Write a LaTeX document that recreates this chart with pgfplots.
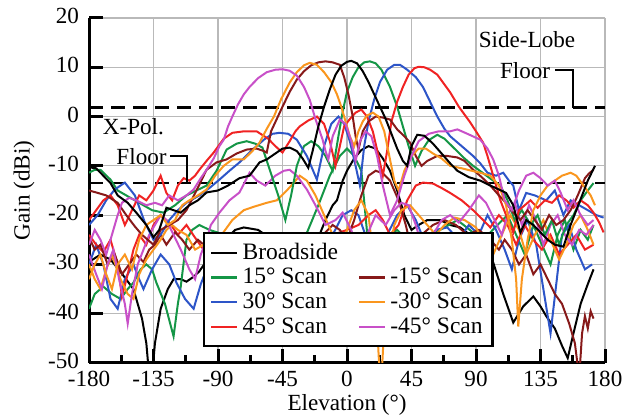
\documentclass[border=0pt]{standalone}
\usepackage{pgfplots}
\pgfplotsset{compat=1.18}
\usepackage{fontspec}
\setmainfont{Liberation Serif}
\definecolor{cgreen}{RGB}{20,150,70}
\definecolor{cblue}{RGB}{45,85,200}
\definecolor{cred}{RGB}{240,35,35}
\definecolor{cdred}{RGB}{135,25,25}
\definecolor{corange}{RGB}{250,150,30}
\definecolor{cmag}{RGB}{200,80,200}
\begin{document}
\begin{tikzpicture}
\begin{axis}[
 scale only axis, width=258bp, height=172.5bp,
 xmin=-180, xmax=180, ymin=-50, ymax=20,
 xtick={-180,-135,-90,-45,0,45,90,135,180},
 xticklabels={-180,-135,-90,-45,0,45,90,135,180},
 minor xtick={-157.5,-112.5,-67.5,-22.5,22.5,67.5,112.5,157.5},
 ytick={-50,-40,-30,-20,-10,0,10,20},
 yticklabels={-50,-40,-30,-20,-10,0,10,20},
 axis x line*=bottom, axis y line*=left,
 axis line style={line width=1.5bp,-},
 tick align=inside, major tick length=7bp, minor tick length=4bp,
 every tick/.style={black, line width=1.5bp},
 grid=major, major grid style={gray!55, line width=0.6bp},
 font=\fontsize{11.6}{14}\selectfont,
 xlabel={Elevation (°)}, ylabel={Gain (dBi)},
 xlabel style={yshift=3bp},
 yticklabel style={xshift=-1.5bp, yshift=1bp},
 xticklabel style={yshift=-0.5bp},
 legend style={at={(0.221,0.380)}, anchor=north west, draw=black, line width=1.2bp, fill=white,
   font=\fontsize{11.8}{14}\selectfont, inner xsep=3bp, inner ysep=3bp, row sep=-1bp},
 legend columns=2,
 legend cell align=left,
 legend image code/.code={\draw[#1] (0bp,0bp) -- (13bp,0bp);},
 /tikz/every even column/.append style={column sep=8bp},
 every axis plot/.append style={line width=1bp},
]
% reference floors
\addplot[forget plot, black, line width=1.2bp, dash pattern=on 7bp off 4bp] coordinates {(-180,1.8) (180,1.8)};
\addplot[forget plot, black, line width=1.2bp, dash pattern=on 7bp off 4bp] coordinates {(-180,-13.5) (180,-13.5)};

% ---------- cross-pol curves ----------
\addplot[forget plot, black] coordinates {
(-180,-29.5) (-172,-28) (-165,-29) (-158,-31.5) (-149,-35) (-143,-41) (-140,-46) (-137,-56) (-134,-46) (-130,-39) (-125,-35) (-121,-33) (-116,-33) (-112,-33.5) (-107,-32.5) (-103,-31.4) (-95,-28) (-85,-25) (-78,-23) (-72,-22.5) (-62,-23) (-52,-25) (-40,-27) (-30,-28) (-22,-26) (-15,-21) (-10,-18) (-7,-17) (-3,-13) (0,-11) (5,-8.5) (10,-6.8) (15,-6) (20,-6.5) (25,-8.5) (30,-11) (35,-15) (40,-20) (45,-23) (50,-22) (56,-21) (65,-21) (72,-22) (79,-22.5) (88,-24.5) (95,-27) (102,-29.6) (109,-36) (116,-41.8) (123,-38.5) (130,-36.5) (135,-38.5) (139,-40.5) (145,-43) (150,-46.5) (154,-49) (158,-44) (163,-38) (168,-34) (172,-31)};
\addplot[forget plot, cgreen] coordinates {
(-180,-39) (-176,-36) (-170,-34.5) (-164,-36) (-158,-37) (-153,-35) (-149,-33.7) (-144,-31) (-140,-30) (-136,-31) (-133,-33.7) (-127,-38) (-121,-44.6) (-118,-38) (-116,-34.5) (-112,-25) (-108,-23) (-103,-22) (-96,-23) (-85,-24) (-60,-26) (-30,-25) (-20,-18) (-12,-12) (-5,-8) (0,-6.5) (5,-8) (10,-11) (14,-23.5) (18,-30) (25,-25) (35,-23) (45,-26) (55,-24) (65,-23) (77,-21) (90,-24) (95,-25) (105,-22) (112,-20) (118,-24) (124,-28) (130,-22) (136,-26) (142,-30) (147,-24) (152,-21) (158,-27) (163,-23) (168,-25) (172,-22)};
\addplot[forget plot, cblue] coordinates {
(-180,-30) (-175,-26) (-170,-30) (-165,-37) (-160,-39) (-155,-33) (-149,-30) (-145,-33) (-142,-35) (-136,-31) (-130,-28) (-124,-30) (-119,-33.7) (-113,-37) (-107,-39) (-102,-34) (-100,-32.5) (-80,-30) (-50,-29) (-20,-28) (-10,-24) (-3,-20) (3,-19) (8,-20) (14,-25) (20,-29) (28,-24) (35,-20) (42,-18) (48,-21) (55,-26) (62,-23) (70,-22.5) (78,-25) (85,-22) (92,-24) (98,-20) (104,-23) (110,-27) (115,-31) (120,-25) (126,-21) (132,-26) (137,-35) (142,-44) (146,-34) (150,-24) (155,-22) (160,-27) (166,-31) (171,-30)};
\addplot[forget plot, cred] coordinates {
(-180,-24) (-175,-26) (-170,-27.5) (-165,-25) (-160,-30) (-157,-36.5) (-153,-32) (-149,-27) (-145,-24) (-140,-26) (-135,-22) (-130,-20) (-124,-21.5) (-118,-24) (-112,-22) (-105,-25) (-100,-27) (-60,-29) (-20,-28) (-10,-24) (0,-23) (8,-22) (15,-20) (20,-19) (25,-21) (30,-24) (36,-22) (42,-17) (48,-14) (53,-13.4) (60,-13.6) (66,-14.5) (72,-15.5) (80,-17) (88,-19) (95,-21) (100,-22.5) (106,-20) (112,-22) (118,-26) (124,-22) (130,-25) (136,-27) (142,-24) (148,-28) (154,-26) (160,-24) (166,-27) (172,-26)};
\addplot[forget plot, cdred] coordinates {
(-180,-24.5) (-176,-27) (-172,-26) (-167,-30) (-162,-28) (-157,-32) (-152,-30) (-147,-28) (-142,-29.5) (-138,-27) (-134,-26) (-130,-24) (-126,-26) (-120,-23.5) (-115,-25) (-110,-27) (-104,-25) (-100,-26) (-60,-28) (-20,-25) (-10,-22) (-5,-23) (0,-25) (5,-21) (10,-16) (15,-12) (20,-11) (25,-11.5) (30,-13) (36,-17) (41,-22) (45,-27) (52,-24) (60,-22) (68,-21) (76,-22) (84,-24) (92,-23) (100,-25) (106,-27) (110,-25) (115,-27) (120,-30) (125,-28) (130,-32) (135,-30) (140,-33) (145,-36) (150,-38) (155,-42) (159,-46) (162,-53) (164,-44) (166,-40.5) (168,-43) (170,-39.5) (172,-41)};
\addplot[forget plot, corange] coordinates {
(-180,-30) (-176,-33) (-172,-35) (-168,-31) (-164,-28) (-158,-33) (-153,-36) (-149,-37) (-145,-32) (-140,-29) (-135,-27) (-130,-25) (-126,-23) (-122,-22) (-118,-23) (-112,-24) (-106,-27) (-100,-26) (-90,-25) (-80,-21) (-72,-19) (-65,-18.3) (-56,-17.5) (-49,-17) (-42,-15) (-37,-13.4) (-33,-12) (-28,-13) (-22,-16) (-16,-20) (-10,-24) (-5,-27) (0,-23) (5,-19) (10,-17) (15,-20) (19,-30) (22,-48) (23.5,-56) (25,-48) (28,-30) (33,-22) (38,-19) (44,-18) (50,-20) (56,-22) (62,-24) (68,-22) (75,-20.5) (82,-21) (90,-22.5) (96,-26) (102,-28) (108,-24) (114,-20) (120,-23) (125,-28) (131,-24) (137,-21) (142,-25) (148,-29) (153,-26) (158,-22) (163,-20) (168,-23) (172,-26)};
\addplot[forget plot, cmag] coordinates {
(-180,-28) (-175,-32) (-171,-35) (-167,-30) (-163,-27) (-159,-33) (-155,-38) (-153,-42) (-150,-36) (-146,-30) (-142,-27) (-138,-24) (-134,-22) (-130,-20) (-126,-21) (-121,-24) (-116,-27) (-110,-31) (-106,-33) (-102,-28) (-98,-25) (-95,-22) (-89,-19.5) (-82,-17) (-75,-15.4) (-68,-11.4) (-63,-13) (-57,-14) (-50,-12) (-44,-11) (-40,-10.8) (-35,-12) (-28,-14.8) (-22,-18) (-15,-22) (-8,-21) (-3,-19.5) (3,-23) (8,-28) (14,-24) (20,-20) (27,-22) (33,-19) (38,-17.5) (43,-18) (48,-22) (54,-28) (60,-24) (66,-21) (72,-20) (78,-21.5) (85,-19) (92,-16) (97,-17.5) (103,-21) (108,-24) (112,-20) (117,-17.5) (122,-22) (127,-18) (132,-21) (137,-26) (142,-22) (147,-20) (152,-24) (157,-26) (162,-23) (167,-24) (172,-22)};

% ---------- co-pol curves ----------
\addplot[forget plot, cgreen] coordinates {
(-180,-11.4) (-176,-10.8) (-172,-10.8) (-165,-12.8) (-160,-15) (-154,-16) (-148,-17) (-142,-18) (-136,-19) (-128,-19.5) (-120,-18) (-112,-16) (-105,-15) (-98,-14) (-91,-11) (-84,-6.7) (-77,-5.5) (-70,-5) (-64,-5.5) (-59,-6.3) (-54,-10.7) (-48,-16) (-43,-21) (-39,-16) (-35,-10) (-30,-6) (-25,-5) (-20,-6) (-15,-8) (-10,-11) (-6,-4) (-3,1) (0,5) (4,8) (8,10) (12,11) (16,11.2) (20,10.8) (24,9.5) (30,6) (35,2) (39,-2) (43,-6) (47.5,-10) (52,-7) (57,-4.8) (63,-3.7) (68,-4.5) (75,-6.5) (82,-8.5) (88,-10) (95,-11.5) (101,-12.8) (107,-14) (112,-17) (117,-21) (122,-19) (128,-22) (133,-20) (138,-24) (143,-21) (148,-26) (153,-22) (158,-20) (163,-17) (168,-15) (172,-13.5)};
\addplot[forget plot, cblue] coordinates {
(-180,-22) (-174,-20) (-168,-17) (-162,-14.8) (-155,-13.4) (-148,-16) (-141,-21.5) (-135,-25) (-130,-24) (-124,-21) (-118,-19) (-112,-17.5) (-103,-16) (-96,-14.5) (-89,-12.8) (-82,-11) (-75,-9.3) (-67,-7) (-58,-4.7) (-52,-3.5) (-47,-3.3) (-41,-3.5) (-35,-4.7) (-28,-8) (-21,-12.8) (-16,-6) (-11,-1.5) (-6,0) (-2,-1.5) (2,-5) (6,-10) (9,-14) (12,-6) (15,-1) (19,3.5) (23,7) (28,9.5) (33,10.5) (37,10.5) (42,9.5) (48,8) (53,6) (58,3) (63,0) (68,-2.5) (72,-4) (80,-6) (88,-8) (93,-9.5) (98,-11.4) (104,-12) (109,-11.4) (113,-13) (116,-14) (120,-19) (125,-15.5) (131,-16) (139,-17) (145,-15) (151,-20) (156,-17) (162,-18) (168,-19) (174,-20) (179,-20.5)};
\addplot[forget plot, cred] coordinates {
(-180,-21) (-175,-19) (-170,-17) (-165,-16) (-160,-18) (-155,-22) (-150,-19) (-145,-16) (-140,-17) (-135,-15) (-130,-12) (-126,-15.5) (-122,-17) (-118,-14) (-114,-12.5) (-110,-13) (-106,-12) (-103,-10.8) (-98,-9) (-93,-7.3) (-86,-4.5) (-80,-3.3) (-72,-3) (-63,-3) (-55,-4.5) (-50,-6) (-45,-7.3) (-40,-5) (-36,-3) (-33,-2) (-27,-0.8) (-21,0) (-16,-1.5) (-12,-5) (-8,-10) (-5,-6) (-2,-2) (2,-0.5) (6,0.8) (10,1.4) (14,0) (18,-3) (22,-8) (25,-12) (28,-7) (31,-1) (35,3) (39,6) (43,8.5) (47,9.8) (50,10.1) (54,10) (58,9.5) (63,8.5) (68,6.5) (72,4.9) (78,2) (83,0) (86,-1.2) (90,-3) (95,-5.3) (98,-8) (102,-12) (107,-17) (111,-20) (116,-23.5) (120,-19) (124,-18) (128,-17) (133,-18.5) (138,-17) (143,-17.5) (148,-16) (153,-17) (158,-18.5) (163,-17) (168,-18) (172,-19.5) (176,-21.5) (179,-23.5)};
\addplot[forget plot, cdred] coordinates {
(-180,-15) (-175,-15.4) (-168,-16) (-160,-17.5) (-154,-20) (-148,-22.3) (-143,-24) (-139,-25) (-135,-26) (-130,-23) (-124,-22) (-118,-21) (-112,-19) (-105,-15) (-98,-10.8) (-91,-9.3) (-84,-8.7) (-77,-7.5) (-70,-6.7) (-63,-6.5) (-58,-7) (-56,-7.3) (-53,-3) (-49,-0.5) (-45,2) (-40,5) (-35,7.5) (-30,9.2) (-25,10.4) (-20,11) (-15,11.2) (-10,11) (-5,10.5) (-2,8) (1,4.5) (4,0) (6,-4) (8,-6.7) (11,-3) (15,-1) (20,0) (25,-0.2) (30,-0.6) (35,-2.6) (40,-4) (44,-5.3) (48,-8) (52,-10) (56,-9) (63,-8) (70,-8) (77,-8.3) (82,-9) (88,-10.8) (94,-12.3) (100,-14) (106,-16) (111,-17.5) (116,-19.5) (121,-21) (126,-19) (131,-21) (136,-23) (141,-20) (146,-22) (151,-21) (156,-19) (161,-16) (166,-12.5) (169,-11.5) (172,-10.8)};
\addplot[forget plot, corange] coordinates {
(-180,-33) (-176,-30) (-172,-28) (-168,-32) (-164,-35) (-160,-30) (-155,-28) (-150,-31) (-145,-25) (-140,-22) (-135,-21) (-130,-20) (-125,-22) (-120,-21) (-115,-18) (-110,-17) (-104,-16) (-98,-14.8) (-92,-12) (-86,-10) (-80,-8.7) (-72,-8.7) (-66,-7) (-61,-5.3) (-56,-2.5) (-51,0) (-46,3.5) (-40,6.9) (-35,9) (-30,10.4) (-26,10.9) (-21,10.5) (-16,9) (-11,7) (-7,4.5) (-4,2) (-1,-1) (2,-4) (5,-6) (8,-3) (11,-1) (14,0.2) (18,0.8) (22,0) (26,-3) (30,-8.7) (33,-13) (36,-15) (40,-11) (45,-8) (50,-6.5) (55,-6.5) (60,-7.5) (66,-8.5) (72,-10) (80,-10.5) (87,-11) (93,-11.4) (100,-12) (106,-14) (111,-18) (115,-25) (118,-33) (119.5,-42.6) (122,-33) (126,-25) (130,-19) (135,-16) (140,-14) (145,-13) (150,-12) (156,-11.4) (160,-12) (165,-14) (170,-16) (173,-18)};
\addplot[forget plot, cmag] coordinates {
(-180,-26) (-176,-23) (-172,-25) (-168,-28) (-164,-24) (-160,-20) (-157,-17.5) (-152,-16.5) (-147,-17) (-140,-18) (-134,-17.5) (-129,-18) (-124,-16) (-118,-17) (-112,-16) (-107,-14.8) (-102,-12.5) (-98,-10.8) (-93,-8.5) (-89,-6) (-86,-4.7) (-83,-2) (-80,0) (-76,2.5) (-72,4.5) (-68,6) (-62,7.8) (-56,9) (-50,9.5) (-45,9.6) (-40,9.3) (-35,8.3) (-30,6) (-26,3.4) (-22,-0.5) (-19,-3) (-17,-4.7) (-15,-7) (-13,-8.7) (-10,-4) (-5,-0.6) (-1,-1.5) (3,-5) (6,-9) (9,-5) (13,-3) (17,-4) (21,-8) (25,-14) (30,-20) (35,-17) (40,-12) (45,-8) (50,-5) (57,-3.5) (64,-3) (72,-3) (77,-2.6) (84,-3.5) (93,-4.7) (98,-6.5) (102,-8.7) (106,-12) (110,-17) (115,-19) (120,-15) (125,-12) (130,-11.4) (135,-12.5) (140,-14) (145,-13) (149,-15.4) (154,-19) (158,-17) (163,-20) (168,-22) (172,-21)};
\addplot[forget plot, black] coordinates {
(-180,-10.3) (-175,-10.5) (-170,-12) (-165,-13.5) (-160,-16) (-153,-17.5) (-147,-19.5) (-140,-22) (-135,-24.5) (-131,-23) (-126,-18.5) (-121,-19) (-116,-19.5) (-110,-18) (-104,-17) (-98,-15.4) (-90,-15) (-83,-14) (-75,-12.5) (-68,-12) (-61,-9.3) (-56,-8.7) (-50,-7.5) (-45,-6.5) (-40,-6.3) (-35,-7) (-31,-8.5) (-27,-10.4) (-24,-7) (-20,-2) (-16,2) (-12,5.5) (-8,8.5) (-4,10.3) (0,11.1) (3,11.3) (7,10.8) (11,9.2) (15,7) (19,4.5) (23,2) (27,-0.5) (31,-3.5) (35,-6.5) (39,-9) (42,-10) (45,-6) (49,-3.7) (54,-3.9) (60,-5.5) (66,-7.5) (72,-9.5) (77,-11) (85,-12.3) (93,-13) (100,-14) (106,-14.8) (111,-15.5) (116,-18) (121,-23.5) (125,-21) (130,-22) (135,-23.5) (140,-25) (145,-26) (151,-26.4) (156,-22) (162,-17.5) (168,-13) (173,-10)};

% annotations
\node[anchor=center, inner sep=0pt] at (axis cs:125.6,15.6) {Side-Lobe};
\node[anchor=east, inner sep=0pt] at (axis cs:142,9.4) {Floor};
\draw[black, line width=1bp] (axis cs:145,9.4) -- (axis cs:157.7,9.4) -- (axis cs:157.7,1.8);
\node[anchor=center, inner sep=0pt] at (axis cs:-149,-2) {X-Pol.};
\node[anchor=east, inner sep=0pt] at (axis cs:-125.6,-8.1) {Floor};
\draw[black, line width=1bp] (axis cs:-123.5,-8.1) -- (axis cs:-111.6,-8.1) -- (axis cs:-111.6,-13.5);

% legend
\addlegendimage{black, line width=1.2bp}\addlegendentry{Broadside}
\addlegendimage{empty legend}\addlegendentry{}
\addlegendimage{cgreen, line width=1.2bp}\addlegendentry{15° Scan}
\addlegendimage{cdred, line width=1.2bp}\addlegendentry{-15° Scan}
\addlegendimage{cblue, line width=1.2bp}\addlegendentry{30° Scan}
\addlegendimage{corange, line width=1.2bp}\addlegendentry{-30° Scan}
\addlegendimage{cred, line width=1.2bp}\addlegendentry{45° Scan}
\addlegendimage{cmag, line width=1.2bp}\addlegendentry{-45° Scan}
\end{axis}
\pgfresetboundingbox
\path ([shift={(-44.5bp,-27.5bp)}]current axis.south west) rectangle ([shift={(9.5bp,9bp)}]current axis.north east);
\end{tikzpicture}
\end{document}
